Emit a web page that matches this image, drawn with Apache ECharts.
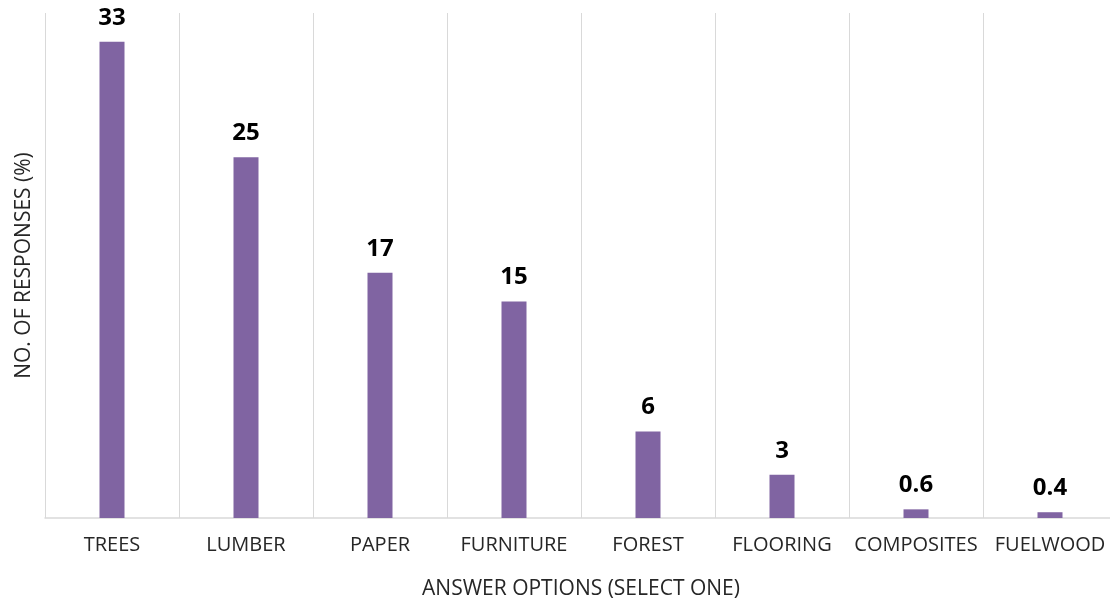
<!DOCTYPE html>
<html>
<head>
<meta charset="utf-8">
<script src="https://cdn.jsdelivr.net/npm/echarts@6/dist/echarts.min.js"></script>
<style>
  html, body { margin: 0; padding: 0; background: #fff; }
  #chart { width: 1110px; height: 604px; }
</style>
</head>
<body>
<div id="chart"></div>
<script>
// Share of responses per answer option
const categories = ['TREES', 'LUMBER', 'PAPER', 'FURNITURE', 'FOREST', 'FLOORING', 'COMPOSITES', 'FUELWOOD'];
const responses = [33, 25, 17, 15, 6, 3, 0.6, 0.4];

const chart = echarts.init(document.getElementById('chart'), null, { renderer: 'canvas' });

chart.setOption({
  animation: false,
  backgroundColor: '#ffffff',
  // the last category column runs slightly past the right edge of the canvas
  grid: { left: 45, top: 13, width: 1072, height: 505, containLabel: false, outerBoundsMode: 'none' },
  xAxis: {
    type: 'category',
    data: categories,
    name: 'ANSWER OPTIONS (SELECT ONE)',
    nameLocation: 'middle',
    nameGap: 61,
    nameTextStyle: { fontFamily: 'Open Sans', fontSize: 21, color: '#262626' },
    axisLine: { lineStyle: { color: '#d9d9d9', width: 1.5 } },
    axisTick: { show: false },
    axisLabel: {
      fontFamily: 'Open Sans', fontSize: 20, color: '#262626', margin: 17,
      interval: 0
    },
    splitLine: { show: true, interval: 0, lineStyle: { color: '#d9d9d9', width: 1 } }
  },
  yAxis: {
    type: 'value',
    min: 0,
    max: 35,
    name: 'NO. OF RESPONSES (%)',
    nameLocation: 'middle',
    nameGap: 10,
    nameTextStyle: { fontFamily: 'Open Sans', fontSize: 21, color: '#262626' },
    axisLine: { show: false },
    axisTick: { show: false },
    axisLabel: { show: false },
    splitLine: { show: false }
  },
  series: [{
    type: 'bar',
    data: responses,
    barWidth: 25,
    itemStyle: { color: '#8064a2' },
    label: {
      show: true,
      position: 'top',
      distance: 12,
      fontFamily: 'Open Sans',
      fontWeight: 'bold',
      fontSize: 24,
      color: '#000000'
    }
  }]
});
</script>
</body>
</html>
